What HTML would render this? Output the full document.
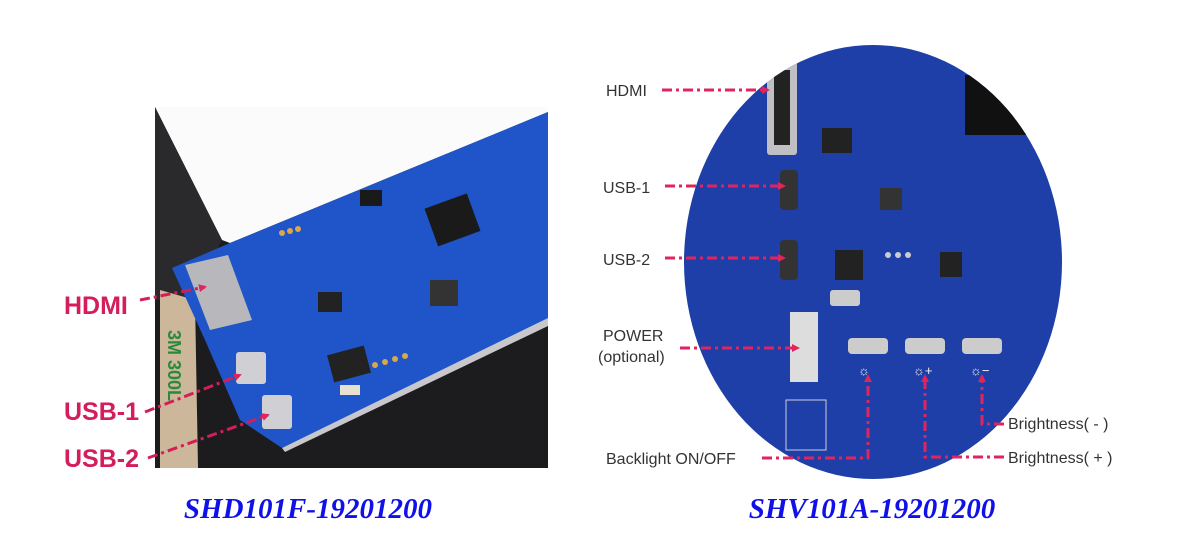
<!DOCTYPE html>
<html><head><meta charset="utf-8"><style>
html,body{margin:0;padding:0;background:#fff;}
svg{display:block}
</style></head><body>
<svg width="1200" height="540" viewBox="0 0 1200 540" xmlns="http://www.w3.org/2000/svg">
<defs>
<marker id="ah" markerWidth="8" markerHeight="8" refX="6" refY="4" orient="auto" markerUnits="userSpaceOnUse">
<path d="M0,0 L8,4 L0,8 Z" fill="#e0245e"/></marker>
<clipPath id="ell"><ellipse cx="873" cy="262" rx="189" ry="217"/></clipPath>
</defs>
<rect width="1200" height="540" fill="#fff"/>
<!-- LEFT PHOTO -->
<polygon points="155,107 548,107 548,468 155,468" fill="#1c1c1e"/>
<polygon points="155,107 548,107 548,112 230,243 222,240" fill="#fbfbfb"/>
<polygon points="155,107 222,240 210,262 190,300 155,300" fill="#2a2a2c"/>
<polygon points="160,290 195,300 198,468 160,468" fill="#cdb79a"/>
<text x="168" y="330" transform="rotate(90 168 330)" font-family="Liberation Sans,sans-serif" font-size="18" font-weight="bold" fill="#2a8a3a">3M 300L</text>
<polygon points="172,268 230,243 548,112 548,322 282,448 240,420 205,340" fill="#1f55c8"/>
<polygon points="548,318 282,448 285,452 548,326" fill="#c8c8cc"/>
<rect x="430" y="200" width="45" height="40" fill="#1a1a1a" transform="rotate(-20 452 220)"/>
<rect x="360" y="190" width="22" height="16" fill="#1a1a1a"/>
<rect x="330" y="350" width="38" height="28" fill="#222" transform="rotate(-15 349 364)"/>
<rect x="430" y="280" width="28" height="26" fill="#333"/>
<rect x="318" y="292" width="24" height="20" fill="#222"/>
<rect x="340" y="385" width="20" height="10" fill="#e8e0d0"/>
<polygon points="185,265 228,255 252,320 210,330" fill="#b8b8bc"/>
<rect x="236" y="352" width="30" height="32" rx="3" fill="#d0d0d4"/>
<rect x="262" y="395" width="30" height="34" rx="3" fill="#d0d0d4"/>
<g fill="#d9a84a"><circle cx="282" cy="233" r="3"/><circle cx="290" cy="231" r="3"/><circle cx="298" cy="229" r="3"/><circle cx="375" cy="365" r="3"/><circle cx="385" cy="362" r="3"/><circle cx="395" cy="359" r="3"/><circle cx="405" cy="356" r="3"/></g>
<g font-family="Liberation Sans,sans-serif" font-weight="bold" font-size="25" fill="#d41e5a">
<text x="64" y="314">HDMI</text><text x="64" y="420">USB-1</text><text x="64" y="467">USB-2</text></g>
<g stroke="#d41e5a" stroke-width="3" stroke-dasharray="10,4,3,4" fill="none">
<line x1="140" y1="300" x2="205" y2="287" marker-end="url(#ah)"/>
<line x1="145" y1="412" x2="240" y2="375" marker-end="url(#ah)"/>
<line x1="148" y1="458" x2="268" y2="415" marker-end="url(#ah)"/>
</g>
<!-- RIGHT -->
<ellipse cx="873" cy="262" rx="189" ry="217" fill="#1e3fa8"/>
<g clip-path="url(#ell)">
<rect x="965" y="75" width="100" height="60" fill="#111"/>
<rect x="767" y="60" width="30" height="95" rx="3" fill="#bfbfc4"/>
<rect x="774" y="70" width="16" height="75" fill="#222"/>
<rect x="780" y="170" width="18" height="40" rx="4" fill="#333"/>
<rect x="780" y="240" width="18" height="40" rx="4" fill="#333"/>
<rect x="835" y="250" width="28" height="30" fill="#222"/>
<rect x="880" y="188" width="22" height="22" fill="#333"/>
<rect x="940" y="252" width="22" height="25" fill="#222"/>
<rect x="822" y="128" width="30" height="25" fill="#222"/>
<rect x="790" y="312" width="28" height="70" fill="#ddd"/>
<rect x="830" y="290" width="30" height="16" rx="3" fill="#ccc"/>
<rect x="848" y="338" width="40" height="16" rx="4" fill="#ccc"/>
<rect x="905" y="338" width="40" height="16" rx="4" fill="#ccc"/>
<rect x="962" y="338" width="40" height="16" rx="4" fill="#ccc"/>
<rect x="786" y="400" width="40" height="50" fill="none" stroke="#ccd" stroke-width="1"/>
<g fill="#ccc"><circle cx="888" cy="255" r="3"/><circle cx="898" cy="255" r="3"/><circle cx="908" cy="255" r="3"/></g>
<g font-family="Liberation Sans,sans-serif" font-size="13" fill="#eee"><text x="858" y="375">☼</text><text x="913" y="375">☼+</text><text x="970" y="375">☼−</text></g>
</g>
<g font-family="Liberation Sans,sans-serif" font-size="16" fill="#333">
<text x="606" y="96">HDMI</text><text x="603" y="193">USB-1</text><text x="603" y="265">USB-2</text>
<text x="603" y="341">POWER</text><text x="598" y="362">(optional)</text>
<text x="606" y="464">Backlight ON/OFF</text>
<text x="1008" y="429">Brightness( - )</text><text x="1008" y="463">Brightness( + )</text></g>
<g stroke="#e0245e" stroke-width="3" stroke-dasharray="10,4,3,4" fill="none">
<line x1="662" y1="90" x2="768" y2="90" marker-end="url(#ah)"/>
<line x1="665" y1="186" x2="784" y2="186" marker-end="url(#ah)"/>
<line x1="665" y1="258" x2="784" y2="258" marker-end="url(#ah)"/>
<line x1="680" y1="348" x2="798" y2="348" marker-end="url(#ah)"/>
<polyline points="762,458 868,458 868,376" marker-end="url(#ah)"/>
<polyline points="1004,457 925,457 925,376" marker-end="url(#ah)"/>
<polyline points="1004,424 982,424 982,376" marker-end="url(#ah)"/>
</g>
<g font-family="Liberation Serif,serif" font-weight="bold" font-style="italic" font-size="29" fill="#1010e8" text-anchor="middle">
<text x="308" y="518">SHD101F-19201200</text><text x="872" y="518">SHV101A-19201200</text></g>
</svg>
</body></html>
